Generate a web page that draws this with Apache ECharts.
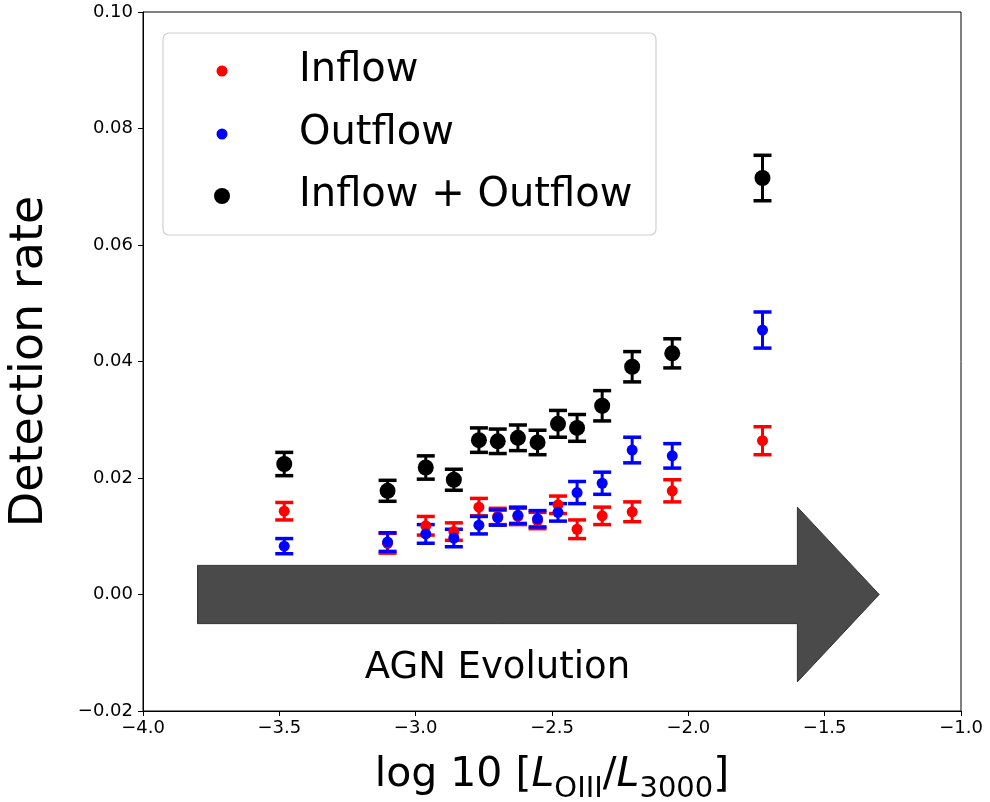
<!DOCTYPE html>
<html>
<head>
<meta charset="utf-8">
<script src="https://cdn.jsdelivr.net/npm/echarts@6/dist/echarts.min.js"></script>
<style>
  html, body { margin: 0; padding: 0; background: #fff; }
  #chart { width: 990px; height: 802px; }
</style>
</head>
<body>
<div id="chart"></div>
<script>
// log10(L_OIII / L_3000) bins
const xBins = [-3.482, -3.103, -2.963, -2.860, -2.768, -2.699, -2.625, -2.553, -2.478, -2.408, -2.316, -2.206, -2.059, -1.728]

const inflowRate = [0.0143, 0.0088, 0.0118, 0.0108, 0.0150, 0.0134, 0.0134, 0.0127, 0.0154, 0.0112, 0.0135, 0.0142, 0.0178, 0.0264]
const inflowErr = [0.0015, 0.0017, 0.0016, 0.0015, 0.0015, 0.0014, 0.0014, 0.0014, 0.0015, 0.0016, 0.0015, 0.0017, 0.0019, 0.0024]

const outflowRate = [0.0083, 0.0090, 0.0104, 0.0097, 0.0119, 0.0132, 0.0136, 0.0130, 0.0141, 0.0175, 0.0191, 0.0248, 0.0238, 0.0454]
const outflowErr = [0.0013, 0.0016, 0.0016, 0.0015, 0.0015, 0.0013, 0.0014, 0.0014, 0.0015, 0.0019, 0.0019, 0.0022, 0.0021, 0.0031]

const bothRate = [0.0224, 0.0178, 0.0218, 0.0197, 0.0265, 0.0263, 0.0269, 0.0261, 0.0293, 0.0286, 0.0324, 0.0391, 0.0414, 0.0715]
const bothErr = [0.0020, 0.0018, 0.0020, 0.0018, 0.0021, 0.0021, 0.0022, 0.0021, 0.0023, 0.0023, 0.0026, 0.0026, 0.0025, 0.0039]

const seriesNames = ['Inflow', 'Outflow', 'Inflow + Outflow']
const seriesColors = ['#ff0000', '#0000ff', '#000000']

// arrow annotation (data units)
const arrowFrom = -3.8
const arrowTo = -1.3
const arrowBody = 0.005
const arrowHead = 0.015
const arrowHeadLen = 0.3
const arrowText = 'AGN Evolution'
const arrowTextAt = [-2.70, -0.0126]

const FONT = 'DejaVu Sans'

const chart = echarts.init(document.getElementById('chart'))

function points(ys) {
  return xBins.map((x, i) => [x, ys[i]])
}
function bars(ys, errs) {
  return xBins.map((x, i) => [x, ys[i] - errs[i], ys[i] + errs[i]])
}

function errorBars(name, color, ys, errs) {
  return {
    type: 'custom',
    name: name,
    data: bars(ys, errs),
    itemStyle: { color: color },
    renderItem(params, api) {
      const x = api.value(0)
      const top = api.coord([x, api.value(2)])
      const bot = api.coord([x, api.value(1)])
      const hw = 9
      const cap = { stroke: color, lineWidth: 3.5 }
      return {
        type: 'group',
        children: [
          { type: 'line', shape: { x1: top[0], y1: top[1], x2: bot[0], y2: bot[1] }, style: { stroke: color, lineWidth: 3 } },
          { type: 'line', shape: { x1: top[0] - hw, y1: top[1], x2: top[0] + hw, y2: top[1] }, style: cap },
          { type: 'line', shape: { x1: bot[0] - hw, y1: bot[1], x2: bot[0] + hw, y2: bot[1] }, style: cap }
        ]
      }
    }
  }
}

function dots(name, color, ys, size) {
  return {
    type: 'scatter',
    name: name,
    data: points(ys),
    symbol: 'circle',
    symbolSize: size,
    itemStyle: { color: color, opacity: 1 }
  }
}

function legendRow(i, top, size) {
  return {
    data: [{ name: seriesNames[i], icon: 'circle', itemStyle: { color: seriesColors[i] } }],
    left: 222 - size / 2,
    top: top,
    orient: 'vertical',
    padding: 0,
    itemWidth: size,
    itemHeight: size,
    selectedMode: false,
    textStyle: { fontFamily: FONT, fontSize: 40, lineHeight: 42, color: '#000', padding: [0, 0, 0, 77 - size / 2 - 5] }
  }
}

chart.setOption({
  animation: false,
  backgroundColor: '#fff',
  grid: {
    left: 143,
    right: 29,
    top: 12,
    bottom: 91,
    outerBoundsMode: 'none',
    containLabel: false,
    show: true,
    borderColor: '#000',
    borderWidth: 1
  },
  xAxis: {
    type: 'value',
    min: -4,
    max: -1,
    interval: 0.5,
    name: '{t|log 10 [}{i|L}{s|OIII}{t|/}{i|L}{s|3000}{t|]}',
    nameLocation: 'middle',
    nameGap: 44,
    nameTextStyle: {
      rich: {
        t: { fontFamily: FONT, fontSize: 41, lineHeight: 44, color: '#000', verticalAlign: 'top' },
        i: { fontFamily: FONT, fontSize: 41, lineHeight: 44, color: '#000', fontStyle: 'italic', verticalAlign: 'top' },
        s: { fontFamily: FONT, fontSize: 29, lineHeight: 30, color: '#000', verticalAlign: 'top', padding: [20, 0, 0, 0] }
      }
    },
    axisLine: { onZero: false, lineStyle: { color: '#000', width: 1 } },
    axisTick: { length: 5, lineStyle: { color: '#000' } },
    axisLabel: {
      fontFamily: FONT,
      fontSize: 18,
      color: '#000',
      margin: 8,
      formatter: v => v.toFixed(1).replace('-', '\u2212')
    },
    splitLine: { show: false }
  },
  yAxis: {
    type: 'value',
    min: -0.02,
    max: 0.1,
    interval: 0.02,
    name: 'Detection rate',
    nameLocation: 'middle',
    nameGap: 90,
    nameTextStyle: { fontFamily: FONT, fontSize: 46, color: '#000' },
    axisLine: { onZero: false, lineStyle: { color: '#000', width: 1 } },
    axisTick: { length: 5, lineStyle: { color: '#000' } },
    axisLabel: {
      fontFamily: FONT,
      fontSize: 18,
      color: '#000',
      margin: 10,
      formatter: v => v.toFixed(2).replace('-', '\u2212')
    },
    splitLine: { show: false }
  },
  legend: [
    legendRow(0, 50, 11),
    legendRow(1, 113, 11),
    legendRow(2, 175, 16)
  ],
  graphic: [{
    type: 'rect',
    z: 3,
    shape: { x: 163, y: 33, width: 493, height: 202, r: 6 },
    style: { fill: 'rgba(255,255,255,0.8)', stroke: '#d0d0d0', lineWidth: 1.2 }
  }],
  series: [
    {
      type: 'custom',
      name: 'arrow',
      data: [[arrowFrom, arrowTo]],
      z: 1,
      renderItem(params, api) {
        const x0 = api.value(0)
        const x1 = api.value(1)
        const xh = x1 - arrowHeadLen
        const pts = [
          [x0, arrowBody], [xh, arrowBody], [xh, arrowHead], [x1, 0],
          [xh, -arrowHead], [xh, -arrowBody], [x0, -arrowBody]
        ].map(p => api.coord(p))
        return {
          type: 'polygon',
          shape: { points: pts },
          style: { fill: '#4a4a4a', stroke: '#333', lineWidth: 1 }
        }
      }
    },
    {
      type: 'custom',
      name: 'label',
      data: [arrowTextAt],
      z: 1,
      renderItem(params, api) {
        const p = api.coord([api.value(0), api.value(1)])
        return {
          type: 'text',
          x: p[0],
          y: p[1],
          style: {
            text: arrowText,
            fontFamily: FONT,
            fontSize: 37,
            fill: '#000',
            align: 'center',
            verticalAlign: 'middle'
          }
        }
      }
    },
    errorBars(seriesNames[0], seriesColors[0], inflowRate, inflowErr),
    dots(seriesNames[0], seriesColors[0], inflowRate, 11),
    errorBars(seriesNames[1], seriesColors[1], outflowRate, outflowErr),
    dots(seriesNames[1], seriesColors[1], outflowRate, 11),
    errorBars(seriesNames[2], seriesColors[2], bothRate, bothErr),
    dots(seriesNames[2], seriesColors[2], bothRate, 16)
  ]
})
</script>
</body>
</html>
